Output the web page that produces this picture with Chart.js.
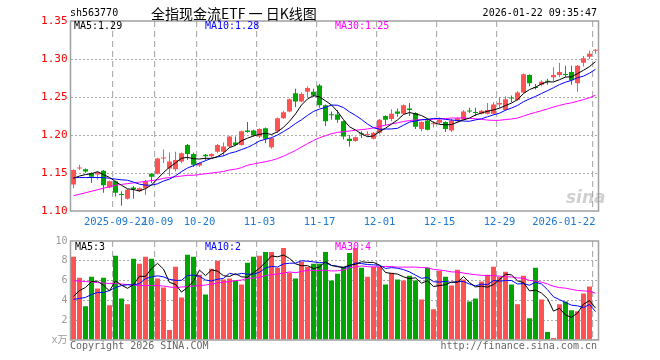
<!DOCTYPE html>
<html>
<head>
<meta charset="utf-8">
<script src="https://cdn.jsdelivr.net/npm/chart.js@4/dist/chart.umd.min.js"></script>
<style>
  body { margin: 0; background: #fff; }
  #wrap { position: relative; width: 660px; height: 360px; overflow: hidden;
          font-family: "DejaVu Sans Mono", "Noto Sans CJK SC", monospace; font-size: 10px; }
  canvas { position: absolute; left: 0; }
  .t { position: absolute; white-space: pre; line-height: 12px; }
</style>
</head>
<body>
<div id="wrap">
  <canvas id="kline" width="660" height="232" style="top:0;width:660px;height:232px"></canvas>
  <canvas id="vol" width="660" height="128" style="top:232px;width:660px;height:128px"></canvas>

  <div class="t" style="left:70px;top:7px">sh563770</div>
  <div class="t" style="left:151px;top:5px;font:14px/16px 'Noto Sans CJK SC'">全指现金流ETF 一 日K线图</div>
  <div class="t" style="right:63px;top:7px">2026-01-22 09:35:47</div>

  <div class="t" id="lg5" style="left:74px;top:20px;color:#000"></div>
  <div class="t" id="lg10" style="left:205px;top:20px;color:#00f"></div>
  <div class="t" id="lg30" style="left:335px;top:20px;color:#f0f"></div>

  <div class="t" id="vl5" style="left:75px;top:241px;color:#000"></div>
  <div class="t" id="vl10" style="left:205px;top:241px;color:#00f"></div>
  <div class="t" id="vl30" style="left:335px;top:241px;color:#f0f"></div>

  <div class="t" style="left:566px;top:188px;font:italic bold 17px/18px 'DejaVu Sans';color:rgba(150,150,150,0.45)">sina</div>

  <div class="t" style="left:70px;top:340px;color:#666">Copyright 2026 SINA.COM</div>
  <div class="t" style="right:63px;top:340px;color:#666">http://finance.sina.com.cn</div>
</div>

<script>
// trading days shown
const dates = [
  '2025-09-11','2025-09-12','2025-09-15','2025-09-16','2025-09-17','2025-09-18','2025-09-19',
  '2025-09-22','2025-09-23','2025-09-24','2025-09-25','2025-09-26','2025-09-29','2025-09-30',
  '2025-10-09','2025-10-10','2025-10-13','2025-10-14','2025-10-15','2025-10-16','2025-10-17',
  '2025-10-20','2025-10-21','2025-10-22','2025-10-23','2025-10-24','2025-10-27','2025-10-28','2025-10-29','2025-10-30','2025-10-31',
  '2025-11-03','2025-11-04','2025-11-05','2025-11-06','2025-11-07','2025-11-10','2025-11-11','2025-11-12','2025-11-13','2025-11-14',
  '2025-11-17','2025-11-18','2025-11-19','2025-11-20','2025-11-21','2025-11-24','2025-11-25','2025-11-26','2025-11-27','2025-11-28',
  '2025-12-01','2025-12-02','2025-12-03','2025-12-04','2025-12-05','2025-12-08','2025-12-09','2025-12-10','2025-12-11','2025-12-12',
  '2025-12-15','2025-12-16','2025-12-17','2025-12-18','2025-12-19','2025-12-22','2025-12-23','2025-12-24','2025-12-25','2025-12-26',
  '2025-12-29','2025-12-30','2025-12-31',
  '2026-01-05','2026-01-06','2026-01-07','2026-01-08','2026-01-09','2026-01-12','2026-01-13','2026-01-14','2026-01-15','2026-01-16',
  '2026-01-19','2026-01-20','2026-01-21','2026-01-22'
];

const opens = [
  1.135,1.156,1.155,1.150,1.148,1.153,1.131,1.139,1.122,1.116,
  1.131,1.126,1.130,1.149,1.149,1.169,1.156,1.155,1.165,1.187,
  1.175,1.160,1.174,1.172,1.178,1.178,1.185,1.190,1.187,1.206,
  1.206,1.198,1.209,1.184,1.205,1.222,1.231,1.255,1.244,1.257,
  1.257,1.265,1.239,1.227,1.227,1.218,1.195,1.192,1.202,1.200,
  1.195,1.203,1.225,1.221,1.231,1.228,1.235,1.229,1.208,1.219,
  1.214,1.216,1.217,1.206,1.218,1.220,1.232,1.230,1.228,1.228,
  1.228,1.240,1.233,1.249,1.246,1.256,1.279,1.263,1.266,1.271,
  1.276,1.279,1.280,1.283,1.268,1.295,1.303,1.311
];
const highs = [
  1.155,1.161,1.156,1.151,1.152,1.154,1.140,1.140,1.126,1.129,
  1.133,1.131,1.141,1.150,1.170,1.181,1.177,1.178,1.177,1.188,
  1.177,1.164,1.175,1.176,1.188,1.190,1.199,1.198,1.206,1.217,
  1.207,1.209,1.210,1.197,1.223,1.232,1.248,1.261,1.256,1.264,
  1.261,1.267,1.240,1.231,1.233,1.219,1.200,1.198,1.205,1.205,
  1.204,1.221,1.226,1.234,1.235,1.240,1.242,1.230,1.218,1.220,
  1.218,1.223,1.218,1.221,1.223,1.233,1.236,1.236,1.233,1.242,
  1.243,1.250,1.251,1.252,1.258,1.281,1.280,1.267,1.272,1.274,
  1.289,1.295,1.291,1.291,1.292,1.304,1.311,1.313
];
const lows = [
  1.130,1.154,1.150,1.137,1.141,1.124,1.130,1.119,1.107,1.115,
  1.116,1.125,1.121,1.137,1.148,1.163,1.146,1.152,1.163,1.167,
  1.158,1.158,1.167,1.170,1.176,1.172,1.183,1.186,1.186,1.203,
  1.198,1.196,1.189,1.182,1.203,1.221,1.230,1.237,1.243,1.249,
  1.250,1.236,1.212,1.220,1.216,1.194,1.185,1.191,1.196,1.198,
  1.194,1.201,1.213,1.218,1.224,1.227,1.225,1.208,1.205,1.206,
  1.210,1.214,1.204,1.204,1.216,1.219,1.229,1.225,1.227,1.227,
  1.227,1.236,1.232,1.243,1.245,1.255,1.264,1.260,1.264,1.266,
  1.271,1.276,1.276,1.266,1.257,1.290,1.300,1.307
];
const closes = [
  1.154,1.157,1.152,1.145,1.151,1.134,1.139,1.124,1.121,1.128,
  1.129,1.130,1.139,1.145,1.169,1.170,1.165,1.167,1.176,1.175,
  1.161,1.163,1.172,1.175,1.187,1.185,1.198,1.187,1.205,1.204,
  1.200,1.208,1.195,1.196,1.222,1.230,1.247,1.244,1.254,1.262,
  1.252,1.239,1.218,1.226,1.220,1.198,1.192,1.197,1.201,1.201,
  1.203,1.220,1.220,1.228,1.228,1.239,1.233,1.211,1.217,1.207,
  1.215,1.220,1.208,1.219,1.222,1.231,1.231,1.229,1.232,1.233,
  1.240,1.242,1.247,1.248,1.256,1.280,1.268,1.262,1.270,1.270,
  1.279,1.283,1.279,1.272,1.291,1.301,1.307,1.312
];
// volume, 万
const volumes = [
  8.4,6.3,3.4,6.4,5.2,6.3,3.5,8.5,4.2,3.6,
  8.2,7.7,8.4,8.2,6.2,5.3,1.0,7.4,4.3,8.6,
  8.4,6.6,4.6,7.2,8.0,6.1,6.2,6.0,5.6,7.8,
  8.4,8.5,8.9,8.9,7.3,9.3,6.8,6.2,7.9,7.4,
  7.7,7.7,8.9,6.0,6.7,7.4,8.8,9.3,7.3,6.4,
  7.4,7.4,5.6,6.8,6.1,6.0,6.5,6.0,4.1,7.3,
  3.1,7.0,6.4,5.5,7.1,6.1,3.9,4.2,5.9,6.6,
  7.4,6.4,6.9,5.6,3.6,6.5,2.2,7.3,4.1,0.8,
  0.2,3.6,3.9,3.0,2.9,4.7,5.4,0.1
];

// averages on the first days reach back before the window: values
const ma5Head = [1.143,1.146,1.148,1.149];
const ma10Head = [1.144,1.144,1.144,1.144,1.144,1.144,1.143,1.142,1.141];
const ma30Head = [1.120,1.122,1.124,1.126,1.128,1.130,1.132,1.134,1.135,1.136,
                  1.137,1.138,1.139,1.140,1.141,1.143,1.144,1.145,1.146,1.147,
                  1.147,1.148,1.149,1.150,1.151,1.152,1.154,1.155,1.157];
const vma5Head = [4.4,5.0,5.3,5.9];
const vma10Head = [4.1,4.2,4.3,4.6,4.8,4.8,5.0,5.3,5.5];
const vma30Head = [6.0,5.95,5.9,5.85,5.8,5.75,5.7,5.7,5.65,5.6,
                   5.55,5.5,5.5,5.5,5.5,5.45,5.35,5.3,5.35,5.4,
                   5.45,5.5,5.55,5.65,5.75,5.85,5.9,6.0,6.05];

const tickDates = ['2025-09-22','2025-10-09','2025-10-20','2025-11-03','2025-11-17',
                   '2025-12-01','2025-12-15','2025-12-29','2026-01-22'];
const tickLabels = ['2025-09-22','10-09','10-20','11-03','11-17','12-01','12-15','12-29','2026-01-22'];
const priceTicks = [1.10, 1.15, 1.20, 1.25, 1.30, 1.35];
const volTicks = [0, 2, 4, 6, 8, 10];

const UP = '#ff5252', DOWN = '#00a600';
const MONO = '"DejaVu Sans Mono", "Noto Sans CJK SC", monospace';

function movingAvg(src, n, head) {
  return src.map((v, i) => {
    if (i < n - 1) return head[i];
    let s = 0;
    for (let k = i - n + 1; k <= i; k++) s += src[k];
    return s / n;
  });
}

const ma5 = movingAvg(closes, 5, ma5Head);
const ma10 = movingAvg(closes, 10, ma10Head);
const ma30 = movingAvg(closes, 30, ma30Head);
const vma5 = movingAvg(volumes, 5, vma5Head);
const vma10 = movingAvg(volumes, 10, vma10Head);
const vma30 = movingAvg(volumes, 30, vma30Head);

const colors = closes.map((c, i) => c >= opens[i] ? UP : DOWN);
const bodies = closes.map((c, i) => [opens[i], c]);
const wicks = closes.map((c, i) => [lows[i], highs[i]]);
const gridIdx = tickDates.map(d => dates.indexOf(d));

const last = dates.length - 1;
const trunc2 = v => (Math.floor(v * 100) / 100).toFixed(2);
document.getElementById('lg5').textContent = 'MA5:' + trunc2(ma5[last]);
document.getElementById('lg10').textContent = 'MA10:' + trunc2(ma10[last]);
document.getElementById('lg30').textContent = 'MA30:' + trunc2(ma30[last]);
document.getElementById('vl5').textContent = 'MA5:' + Math.floor(vma5[last]);
document.getElementById('vl10').textContent = 'MA10:' + Math.floor(vma10[last]);
document.getElementById('vl30').textContent = 'MA30:' + Math.floor(vma30[last]);

const frame = {
  id: 'frame',
  afterDraw(chart) {
    const {ctx, chartArea: a} = chart;
    ctx.save();
    ctx.strokeStyle = '#a0a0a0';
    ctx.lineWidth = 1.5;
    ctx.strokeRect(a.left, a.top, a.right - a.left, a.bottom - a.top);
    ctx.restore();
  }
};

function lineSet(data, color) {
  return { type: 'line', data: data, borderColor: color, borderWidth: 1,
           pointRadius: 0, tension: 0, order: 0 };
}

function xScale(showLabels, height) {
  return {
    type: 'category',
    offset: true,
    grid: {
      offset: true,
      drawTicks: false,
      lineWidth: 1.2,
      color: ctx => gridIdx.includes(ctx.index) ? '#b0b0b0' : 'rgba(0,0,0,0)'
    },
    border: { display: false, dash: [6, 4] },
    ticks: {
      display: showLabels,
      autoSkip: false,
      maxRotation: 0,
      minRotation: 0,
      align: 'inner',
      padding: 5,
      color: '#1c78d0',
      font: { family: MONO, size: 10.5 },
      callback: (v, i) => {
        const k = tickDates.indexOf(dates[i]);
        return k < 0 ? '' : tickLabels[k];
      }
    },
    afterFit: s => { s.height = height; }
  };
}

function yScale(min, max, tickVals, color, size, fmt) {
  return {
    min: min, max: max,
    afterBuildTicks: s => { s.ticks = tickVals.map(v => ({ value: v })); },
    grid: {
      drawTicks: false,
      lineWidth: 1,
      color: ctx => (ctx.index === 0 || ctx.index === tickVals.length - 1) ? 'rgba(0,0,0,0)' : '#aaaaaa'
    },
    border: { display: false, dash: [2, 2] },
    ticks: { color: color, padding: 3, font: { family: MONO, size: size }, callback: fmt },
    afterFit: s => { s.width = 70; }
  };
}

const common = {
  responsive: false,
  animation: false,
  events: [],
  plugins: { legend: { display: false }, tooltip: { enabled: false } }
};

new Chart(document.getElementById('kline'), {
  type: 'bar',
  data: {
    labels: dates,
    datasets: [
      lineSet(ma5, '#000000'),
      lineSet(ma10, '#0000ff'),
      lineSet(ma30, '#ff00ff'),
      { data: bodies, backgroundColor: colors, barThickness: 5, minBarLength: 1,
        grouped: false, inflateAmount: 0, borderWidth: 0, order: 1 },
      { data: wicks, backgroundColor: colors, barThickness: 1,
        grouped: false, inflateAmount: 0, borderWidth: 0, order: 2 }
    ]
  },
  options: Object.assign({}, common, {
    layout: { padding: { left: 0.5, right: 61.5, top: 21, bottom: 0 } },
    scales: {
      x: xScale(true, 21),
      y: yScale(1.10, 1.35, priceTicks, '#ff0000', 11, v => v.toFixed(2))
    }
  }),
  plugins: [frame]
});

new Chart(document.getElementById('vol'), {
  type: 'bar',
  data: {
    labels: dates,
    datasets: [
      lineSet(vma5, '#000000'),
      lineSet(vma10, '#0000ff'),
      lineSet(vma30, '#ff00ff'),
      { data: volumes, backgroundColor: colors, barThickness: 5,
        grouped: false, inflateAmount: 0, borderWidth: 0, order: 1 }
    ]
  },
  options: Object.assign({}, common, {
    layout: { padding: { left: 0.5, right: 61.5, top: 8, bottom: 0 } },
    scales: {
      x: xScale(false, 20),
      y: yScale(0, 10, volTicks, '#999999', 10, v => v === 0 ? 'x万' : String(v))
    }
  }),
  plugins: [frame]
});
</script>
</body>
</html>
